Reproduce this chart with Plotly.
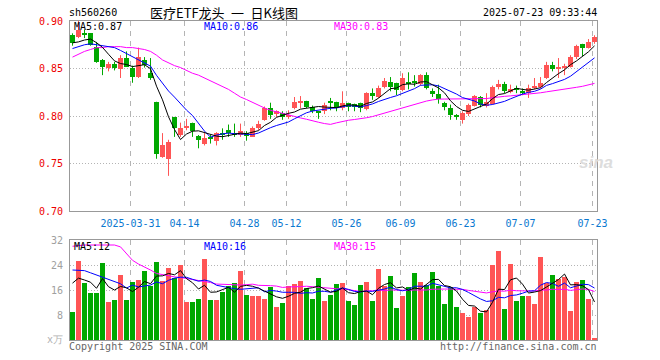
import pandas as pd
import plotly.graph_objects as go

# ---------------- data ----------------
opens = [0.885,0.883,0.887,0.887,0.873,0.859,0.851,0.855,0.850,0.861,
         0.851,0.841,0.859,0.845,0.815,0.757,0.755,0.799,0.780,0.788,
         0.793,0.779,0.771,0.778,0.774,0.782,0.785,0.782,0.780,0.782,
         0.778,0.787,0.796,0.808,0.803,0.803,0.799,0.808,0.814,0.816,
         0.810,0.805,0.805,0.815,0.815,0.808,0.814,0.813,0.814,0.807,
         0.824,0.820,0.831,0.836,0.835,0.827,0.835,0.836,0.834,0.843,
         0.826,0.823,0.814,0.808,0.800,0.796,0.802,0.811,0.820,0.811,
         0.813,0.831,0.834,0.826,0.830,0.826,0.824,0.830,0.831,0.840,
         0.854,0.849,0.851,0.852,0.862,0.876,0.872,0.878]
highs = [0.887,0.900,0.891,0.887,0.878,0.860,0.857,0.857,0.864,0.868,
         0.853,0.872,0.862,0.861,0.815,0.782,0.775,0.799,0.793,0.797,
         0.793,0.780,0.782,0.780,0.783,0.787,0.791,0.792,0.792,0.784,
         0.789,0.795,0.810,0.814,0.806,0.805,0.806,0.820,0.821,0.816,
         0.811,0.805,0.814,0.819,0.815,0.826,0.814,0.813,0.814,0.825,
         0.829,0.832,0.840,0.841,0.835,0.845,0.846,0.843,0.844,0.846,
         0.829,0.833,0.815,0.812,0.802,0.805,0.813,0.822,0.821,0.824,
         0.832,0.838,0.836,0.833,0.832,0.829,0.833,0.840,0.841,0.857,
         0.857,0.861,0.855,0.864,0.875,0.876,0.881,0.885]
lows = [0.874,0.882,0.882,0.874,0.856,0.843,0.847,0.848,0.840,0.852,
        0.835,0.840,0.851,0.838,0.755,0.756,0.737,0.778,0.778,0.785,
        0.778,0.766,0.769,0.771,0.769,0.775,0.778,0.778,0.778,0.774,
        0.778,0.785,0.795,0.797,0.799,0.796,0.797,0.807,0.808,0.808,
        0.803,0.797,0.802,0.806,0.805,0.806,0.805,0.805,0.804,0.806,
        0.817,0.819,0.829,0.826,0.822,0.826,0.828,0.831,0.832,0.828,
        0.820,0.813,0.806,0.796,0.796,0.792,0.800,0.810,0.809,0.809,
        0.812,0.828,0.824,0.824,0.824,0.822,0.819,0.828,0.829,0.839,
        0.847,0.840,0.843,0.851,0.860,0.863,0.871,0.876]
closes = [0.877,0.891,0.886,0.875,0.857,0.852,0.855,0.851,0.861,0.852,
          0.841,0.862,0.854,0.840,0.760,0.769,0.773,0.787,0.787,0.789,
          0.784,0.775,0.777,0.776,0.782,0.781,0.782,0.781,0.784,0.779,
          0.787,0.792,0.808,0.801,0.805,0.799,0.801,0.815,0.816,0.810,
          0.805,0.804,0.812,0.814,0.809,0.814,0.810,0.810,0.808,0.824,
          0.822,0.830,0.837,0.831,0.827,0.840,0.834,0.835,0.843,0.829,
          0.823,0.818,0.809,0.801,0.799,0.803,0.812,0.821,0.812,0.815,
          0.831,0.834,0.826,0.828,0.827,0.825,0.830,0.832,0.835,0.854,
          0.850,0.852,0.852,0.862,0.874,0.872,0.878,0.883]
volumes = [9.1,25.3,18.3,15.0,15.0,24.7,12.3,12.9,20.8,12.8,
           18.7,19.2,22.1,17.3,25.1,18.9,23.1,19.9,24.0,12.3,
           12.3,13.1,25.9,12.8,12.8,15.5,17.3,18.1,22.1,14.4,
           14.1,14.1,13.1,17.1,10.7,11.7,17.3,17.9,18.9,16.5,
           13.1,19.9,12.6,14.4,17.9,18.3,12.5,11.2,17.6,18.7,
           12.5,22.7,17.3,20.5,10.3,14.1,17.0,21.4,18.7,17.6,
           21.9,17.4,11.5,16.9,10.7,8.7,7.5,10.5,8.7,9.6,
           24.0,28.5,9.9,24.3,12.5,14.2,14.2,11.5,26.6,18.3,
           20.8,19.5,20.3,9.3,18.7,19.2,13.0,0.7]

# moving-average values before enough history is visible
ma5_head = [0.877, 0.878, 0.880, 0.881]
ma10_head = [0.871, 0.873, 0.875, 0.876, 0.875, 0.874, 0.873, 0.872, 0.869]
ma30_head = [0.862, 0.865, 0.868, 0.870, 0.872, 0.872, 0.873, 0.873, 0.873, 0.872,
             0.872, 0.871, 0.870, 0.868, 0.864, 0.859, 0.856, 0.853, 0.851, 0.848,
             0.845, 0.843, 0.840, 0.837, 0.834, 0.831, 0.828, 0.824, 0.820]
vma5_head = [18.2, 19.8, 19.2, 18.5]
vma10_head = [22.4, 22.3, 22.2, 21.5, 20.8, 20.0, 19.4, 18.8, 18.0]
vma30_head = [30.0, 30.3, 30.4, 30.4, 30.4, 30.4, 30.4, 30.4, 29.8, 27.8,
              25.5, 24.3, 23.4, 22.4, 21.3, 20.9, 20.5, 20.2, 20.0, 19.7,
              19.5, 19.2, 18.9, 18.4, 17.9, 17.8, 17.7, 17.6, 17.6]

holidays = ["2025-04-04", "2025-05-01", "2025-05-02", "2025-05-05", "2025-06-02"]
tick_dates = ["2025-03-31", "2025-04-14", "2025-04-28", "2025-05-12", "2025-05-26",
              "2025-06-09", "2025-06-23", "2025-07-07", "2025-07-23"]
tick_labels = ["2025-03-31", "04-14", "04-28", "05-12", "05-26",
               "06-09", "06-23", "07-07", "07-23"]
price_ticks = [0.70, 0.75, 0.80, 0.85, 0.90]
vol_ticks = [8, 16, 24, 32]

title_text = "医疗ETF龙头\u2002一\u2002日K线图"
code_text = "sh560260"
time_text = "2025-07-23 09:33:44"
price_ma_labels = ["MA5:0.87", "MA10:0.86", "MA30:0.83"]
vol_ma_labels = ["MA5:12", "MA10:16", "MA30:15"]

# ---------------- derived ----------------
dates = pd.bdate_range("2025-03-17", "2025-07-23")
dates = dates[~dates.isin(pd.to_datetime(holidays))]
n = len(closes)
idx = list(range(n))
date_pos = {d.strftime("%Y-%m-%d"): i for i, d in enumerate(dates)}
tickvals = [date_pos[d] - 1/3 for d in tick_dates]


def moving(vals, w, head):
    s = pd.Series(vals, dtype=float).rolling(w).mean().tolist()
    return list(head) + s[w - 1:]


ma5 = moving(closes, 5, ma5_head)
ma10 = moving(closes, 10, ma10_head)
ma30 = moving(closes, 30, ma30_head)
vma5 = moving(volumes, 5, vma5_head)
vma10 = moving(volumes, 10, vma10_head)
vma30 = moving(volumes, 30, vma30_head)

UP = "#ff5555"
DN = "#00a800"
up = [c >= o for o, c in zip(opens, closes)]
colors = [UP if u else DN for u in up]

W, H = 660, 360
L, R = 70, 597
PT, PB = 21, 211
VT, VB = 240, 340
XR = [-0.4167, 87.4167]
MONO = "DejaVu Sans Mono"

fig = go.Figure()

# wicks
for flag, col in ((True, UP), (False, DN)):
    wx, wy = [], []
    for i in idx:
        if up[i] == flag:
            wx += [i, i, None]
            wy += [lows[i], highs[i], None]
    fig.add_trace(go.Scatter(x=wx, y=wy, mode="lines", line=dict(color=col, width=1),
                             hoverinfo="skip", xaxis="x", yaxis="y"))

# bodies
base = [min(o, c) for o, c in zip(opens, closes)]
hgt = [max(abs(c - o), 0.0011) for o, c in zip(opens, closes)]
fig.add_trace(go.Bar(x=idx, y=hgt, base=base, width=0.8333,
                     marker=dict(color=colors, line=dict(width=0)), xaxis="x", yaxis="y"))

# price MAs
for vals, col in ((ma30, "#ff00ff"), (ma10, "#0000ff"), (ma5, "#000000")):
    fig.add_trace(go.Scatter(x=idx, y=vals, mode="lines", line=dict(color=col, width=1),
                             xaxis="x", yaxis="y"))

# volume
fig.add_trace(go.Bar(x=idx, y=volumes, width=0.8333,
                     marker=dict(color=colors, line=dict(width=0)), xaxis="x2", yaxis="y2"))
for vals, col in ((vma30, "#ff00ff"), (vma10, "#0000ff"), (vma5, "#000000")):
    fig.add_trace(go.Scatter(x=idx, y=vals, mode="lines", line=dict(color=col, width=1),
                             xaxis="x2", yaxis="y2"))


def px(x):
    return x / W


def py(y):
    return 1 - y / H


GRID = "#b4b4b4"
BORDER = "#999999"
common_x = dict(range=XR, tickvals=tickvals, showgrid=True, gridcolor=GRID, gridwidth=1,
                griddash="5px,5px", zeroline=False, showline=True, mirror=True,
                linecolor=BORDER, linewidth=1, ticks="", domain=[px(L), px(R)],
                automargin=False, fixedrange=True)
common_y = dict(showgrid=True, gridcolor=GRID, griddash="1px,2px", zeroline=False,
                showline=True, mirror=True, linecolor=BORDER, linewidth=1, ticks="",
                ticklabelstandoff=4, automargin=False, fixedrange=True)

fig.update_layout(
    width=W, height=H, margin=dict(l=0, r=0, t=0, b=0, autoexpand=False),
    paper_bgcolor="white", plot_bgcolor="white", showlegend=False,
    barmode="overlay", bargap=0,
    xaxis=dict(**common_x, anchor="y", ticktext=tick_labels,
               tickfont=dict(family=MONO, size=10, color="#0a78d0"), ticklabelstandoff=3),
    yaxis=dict(**common_y, domain=[py(PB), py(PT)], range=[0.70, 0.90], anchor="x",
               tickvals=price_ticks, ticktext=["%.2f" % v for v in price_ticks],
               tickfont=dict(family=MONO, size=10, color="#ee0000")),
    xaxis2=dict(**common_x, anchor="y2", showticklabels=False),
    yaxis2=dict(**common_y, domain=[py(VB), py(VT)], range=[0, 32], anchor="x2",
                tickvals=vol_ticks, ticktext=[str(v) for v in vol_ticks],
                tickfont=dict(family=MONO, size=10, color="#a0a0a0")),
)


def text(x, y, s, color="#000", size=10, anchor="left", family=MONO):
    fig.add_annotation(x=px(x), y=py(y), xref="paper", yref="paper", text=s, showarrow=False,
                       xanchor=anchor, yanchor="middle", borderpad=0,
                       font=dict(family=family, size=size, color=color))


text(68, 13, code_text)
text(224, 12.5, title_text, size=13, anchor="center", family="Noto Sans CJK SC")
text(598, 13, time_text, anchor="right")
for x0, s, c in zip((73, 203, 333), price_ma_labels, ("#000000", "#0000ff", "#ff00ff")):
    text(x0, 26.5, s, color=c)
for x0, s, c in zip((73, 203, 333), vol_ma_labels, ("#000000", "#0000ff", "#ff00ff")):
    text(x0, 246.5, s, color=c)
text(64, 339, "x万", color="#b0b0b0", anchor="right")
text(68, 346, "Copyright 2025 SINA.COM", color="#666666")
text(598, 346, "http://finance.sina.com.cn", color="#666666", anchor="right")
text(578, 163, "<b><i>sina</i></b>", color="#dddddd", size=17, family="Liberation Sans")

fig.write_html("out.html", config={"displayModeBar": False},
               post_script="document.body.style.margin='0';document.body.style.overflow='hidden';")
